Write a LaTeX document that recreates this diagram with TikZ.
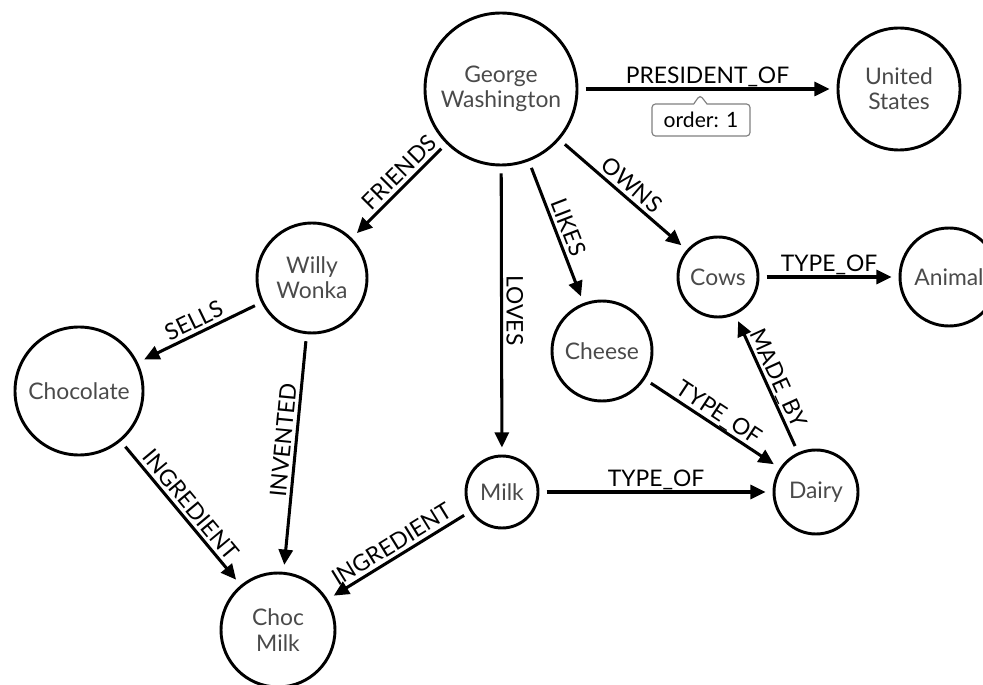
\documentclass[tikz,border=0pt]{standalone}
\usepackage{fontspec}
\setmainfont{Lato}
\usepackage{tikz}
\usetikzlibrary{arrows.meta,shapes.callouts}
\definecolor{nodegray}{HTML}{4A4A4A}

\begin{document}
\begin{tikzpicture}[x=0.03cm, y=-0.03cm,
  thing/.style={draw, circle, line width=2.5pt, inner sep=0pt, align=center, text=nodegray, font=\fontsize{19.5}{21.5}\selectfont},
  rel/.style={line width=2.6pt, -{Triangle[length=13pt,width=12pt]}, shorten <=6pt, shorten >=6pt},
  lbl/.style={font=\fontsize{19.5}{21}\selectfont, inner sep=1pt, text depth=0pt, sloped, above=2pt},
  orderbox/.style={draw=gray, line width=1pt, rounded corners=3pt, minimum width=2.94cm, minimum height=0.96cm, inner sep=2pt, font=\fontsize{18}{20}\selectfont}]
\useasboundingbox (0,0) rectangle (983,685);

\node[thing, minimum size=4.56cm] (GW) at (501,89) {George\\Washington};
\node[thing, minimum size=3.66cm] (US) at (899,89) {United\\States};
\node[thing, minimum size=3.3cm] (WW) at (312,278) {Willy\\Wonka};
\node[thing, minimum size=3.84cm] (Choc) at (79,391) {Chocolate};
\node[thing, minimum size=3.42cm] (CM) at (278,630) {Choc\\Milk};
\node[thing, minimum size=2.16cm] (Milk) at (502,492) {Milk};
\node[thing, minimum size=3.0cm] (Cheese) at (602,351) {Cheese};
\node[thing, minimum size=2.4cm] (Cows) at (718,277) {Cows};
\node[thing, minimum size=2.94cm] (Animal) at (949,277) {Animal};
\node[thing, minimum size=2.52cm] (Dairy) at (816,492) {Dairy};

\draw[rel] (GW) -- node[lbl] {PRESIDENT\_OF} (US);
\draw[rel] (GW) -- node[lbl, pos=0.4] {FRIENDS} (WW);
\draw[rel] (GW) -- node[lbl] {LOVES} (Milk);
\draw[rel] (GW) -- node[lbl] {LIKES} (Cheese);
\draw[rel] (GW) -- node[lbl] {OWNS} (Cows);
\draw[rel] (WW) -- node[lbl] {SELLS} (Choc);
\draw[rel] (WW) -- node[lbl, pos=0.45] {INVENTED} (CM);
\draw[rel] (Choc) -- node[lbl] {INGREDIENT} (CM);
\draw[rel] (Milk) -- node[lbl] {INGREDIENT} (CM);
\draw[rel] (Milk) -- node[lbl] {TYPE\_OF} (Dairy);
\draw[rel] (Cheese) -- node[lbl] {TYPE\_OF} (Dairy);
\draw[rel] (Dairy) -- node[lbl] {MADE\_BY} (Cows);
\draw[rel] (Cows) -- node[lbl] {TYPE\_OF} (Animal);

\coordinate (PresTip) at (700,95);
\node[orderbox, rectangle callout, callout absolute pointer={(PresTip)}, callout pointer width=0.4cm] (Order) at (701,120) {order: 1};
\end{tikzpicture}
\end{document}
